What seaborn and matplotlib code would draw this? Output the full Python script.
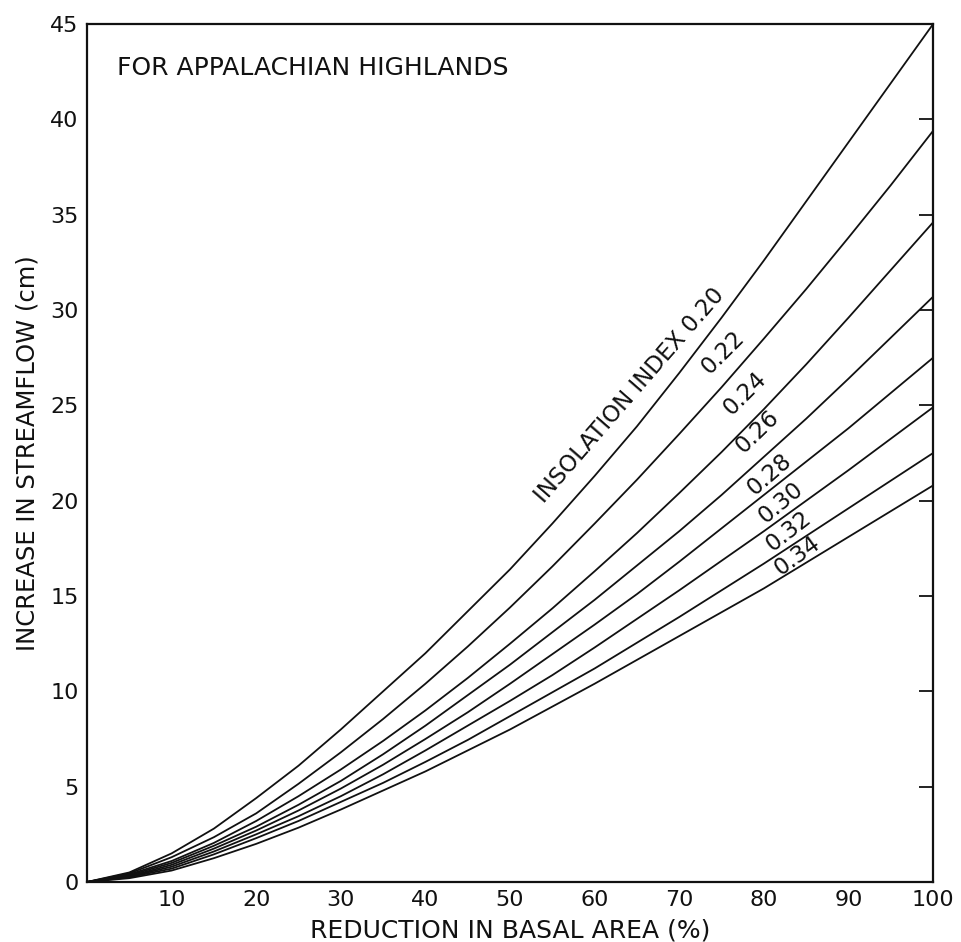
import matplotlib
matplotlib.use("Agg")
import matplotlib.pyplot as plt
import pandas as pd
import seaborn as sns

sns.set_theme(style="white")
plt.rcParams["font.family"] = ["DejaVu Sans"]

# reducción del área basal (%)
reduction = list(range(0, 101, 5))

# aumento del caudal (cm) para cada índice de insolación
idx_020 = [0, 0.5, 1.5, 2.8, 4.4, 6.1, 8.0, 10.0, 12.0, 14.2, 16.4,
           18.8, 21.3, 23.9, 26.7, 29.6, 32.6, 35.7, 38.8, 41.9, 45.0]
idx_022 = [0, 0.45, 1.3, 2.35, 3.6, 5.15, 6.8, 8.55, 10.4, 12.35, 14.4,
           16.55, 18.8, 21.1, 23.5, 25.95, 28.5, 31.1, 33.8, 36.55, 39.4]
idx_024 = [0, 0.4, 1.1, 2.05, 3.2, 4.5, 5.9, 7.4, 9.0, 10.7, 12.5,
           14.35, 16.3, 18.3, 20.4, 22.55, 24.8, 27.15, 29.6, 32.1, 34.6]
idx_026 = [0, 0.35, 1.0, 1.9, 2.9, 4.05, 5.3, 6.7, 8.2, 9.8, 11.4,
           13.1, 14.8, 16.6, 18.4, 20.3, 22.3, 24.3, 26.4, 28.55, 30.7]
idx_028 = [0, 0.3, 0.9, 1.75, 2.7, 3.75, 4.9, 6.15, 7.5, 8.9, 10.4,
           11.95, 13.5, 15.1, 16.8, 18.55, 20.3, 22.05, 23.8, 25.65, 27.5]
idx_030 = [0, 0.28, 0.8, 1.6, 2.5, 3.45, 4.5, 5.65, 6.9, 8.2, 9.5,
           10.85, 12.3, 13.8, 15.3, 16.85, 18.4, 20.0, 21.6, 23.25, 24.9]
idx_032 = [0, 0.25, 0.7, 1.45, 2.3, 3.2, 4.2, 5.2, 6.3, 7.45, 8.7,
           9.95, 11.2, 12.55, 13.9, 15.3, 16.7, 18.15, 19.6, 21.05, 22.5]
idx_034 = [0, 0.2, 0.6, 1.25, 2.0, 2.85, 3.8, 4.8, 5.8, 6.9, 8.0,
           9.2, 10.4, 11.65, 12.9, 14.15, 15.4, 16.75, 18.1, 19.45, 20.8]

series = {"0.20": idx_020, "0.22": idx_022, "0.24": idx_024, "0.26": idx_026,
          "0.28": idx_028, "0.30": idx_030, "0.32": idx_032, "0.34": idx_034}

labels = ["INSOLATION INDEX 0.20", "0.22", "0.24", "0.26",
          "0.28", "0.30", "0.32", "0.34"]
label_x = [64.1, 75.1, 77.8, 79.2, 80.7, 82.0, 82.9, 83.9]
label_y = [25.5, 27.8, 25.6, 23.6, 21.4, 19.9, 18.4, 17.1]
label_rot = [49, 45, 45, 44, 41, 40, 38, 36]

df = pd.concat(
    [pd.DataFrame({"reduction": reduction, "increase": v, "index": k})
     for k, v in series.items()],
    ignore_index=True)

fig = plt.figure(figsize=(9.61, 9.42), dpi=100)
ax = fig.add_axes([0.0905, 0.0637, 0.8805, 0.9108])

sns.lineplot(data=df, x="reduction", y="increase", hue="index",
             palette=["#111111"] * len(series), linewidth=1.3,
             legend=False, ax=ax)

ax.set_xlim(0, 100)
ax.set_ylim(0, 45)
ax.set_xticks(range(0, 101, 10))
ax.set_xticklabels([""] + [str(v) for v in range(10, 101, 10)])
ax.set_yticks(range(0, 46, 5))
ax.tick_params(axis="both", direction="in", length=10, width=1.3,
               labelsize=16, colors="#111111", pad=6)
ax.tick_params(axis="y", right=True)
for s in ax.spines.values():
    s.set_color("#111111")
    s.set_linewidth(1.6)

ax.set_xlabel("REDUCTION IN BASAL AREA (%)", fontsize=18, labelpad=6,
              color="#111111")
ax.set_ylabel("INCREASE IN STREAMFLOW (cm)", fontsize=17.5, labelpad=8,
              color="#111111")

ax.text(3.5, 42.7, "FOR APPALACHIAN HIGHLANDS", fontsize=18,
        ha="left", va="center", color="#111111")

for t, x, y, r in zip(labels, label_x, label_y, label_rot):
    ax.text(x, y, t, fontsize=16.5, rotation=r, rotation_mode="anchor",
            ha="center", va="center", color="#111111")

fig.savefig("out.png", dpi=100, facecolor="white")
